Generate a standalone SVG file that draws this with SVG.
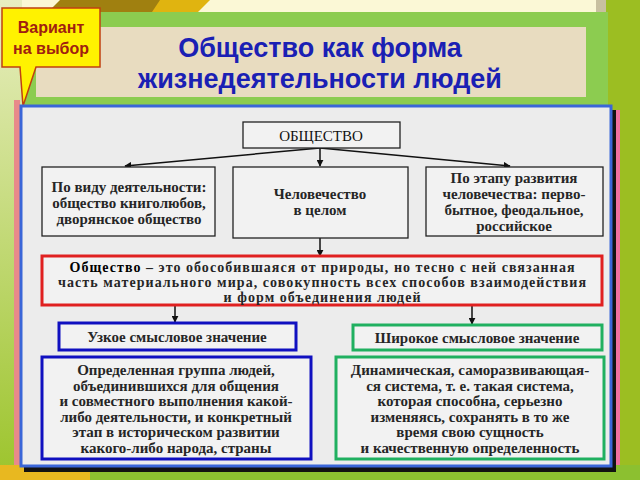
<svg xmlns="http://www.w3.org/2000/svg" width="640" height="480" viewBox="0 0 640 480">
<defs>
<style>
.t{font-family:"Liberation Serif","Times New Roman",serif;font-size:15px;font-weight:bold;fill:#262626;text-anchor:middle}
.r{font-size:14px}
.n{font-weight:normal;fill:#111}
.bx{fill:#f2f2f2;stroke:#222;stroke-width:1.3}
.cn{stroke:#111;stroke-width:1.5;fill:none;marker-end:url(#ah)}
.ttl{font-family:"Liberation Sans",Arial,sans-serif;font-size:27px;font-weight:bold;fill:#1a20b4;text-anchor:middle}
.cl{font-family:"Liberation Sans",Arial,sans-serif;font-size:16px;font-weight:bold;fill:#a02010;text-anchor:middle}
</style>
<marker id="ah" viewBox="0 0 10 10" refX="9" refY="5" markerWidth="7" markerHeight="7" orient="auto" markerUnits="userSpaceOnUse"><path d="M0,0 L10,5 L0,10 z" fill="#111"/></marker>
<linearGradient id="lg" x1="0" y1="0" x2="0" y2="1"><stop offset="0" stop-color="#e8eec0"/><stop offset="1" stop-color="#9cc42c"/></linearGradient>
</defs>
<!-- background -->
<rect width="640" height="480" fill="#fbf8d6"/>
<polygon points="60,0 200,0 180,20 40,20" fill="#a08010"/>
<polygon points="160,0 210,0 195,15 150,15" fill="#e0b410"/>
<rect x="0" y="0" width="22" height="480" fill="url(#lg)"/>
<rect x="14" y="100" width="6" height="380" fill="#e88a8a"/>
<rect x="606" y="0" width="34" height="480" fill="#9cbe22"/>
<rect x="596" y="0" width="10" height="14" fill="#c8c0a0"/>
<rect x="612" y="110" width="8" height="370" fill="#f070a0"/>
<rect x="0" y="465" width="640" height="15" fill="#8cc030"/>
<rect x="0" y="465" width="90" height="15" fill="#e8b820"/>
<!-- title panel -->
<rect x="24" y="12" width="584" height="96" fill="#8ccc50"/>
<rect x="36" y="27" width="550" height="70" fill="#e8dcc0"/>
<text class="ttl" x="320" y="57">Общество как форма</text>
<text class="ttl" x="320" y="88">жизнедеятельности людей</text>
<!-- callout -->
<g id="callout">
<path d="M2,8 H100 V67 H36 L23,106 L20,67 H2 Z" fill="#fff200" stroke="#c04010" stroke-width="1.5"/>
<text class="cl" x="51" y="33">Вариант</text>
<text class="cl" x="51" y="54">на выбор</text>
</g>
<!-- main frame -->
<rect x="24" y="110" width="592" height="362" fill="#111"/>
<rect x="21" y="106" width="590" height="360" fill="#ececec" stroke="#3a66d8" stroke-width="3"/>
<!-- connectors -->
<g id="connectors">
<path class="cn" d="M320,148 L125,166"/>
<path class="cn" d="M320,148 L320,166"/>
<path class="cn" d="M320,148 L510,166"/>
<path class="cn" d="M320,238 L320,256"/>
<path class="cn" d="M175,305 L175,322"/>
<path class="cn" d="M472,305 L472,324"/>
</g>
<g id="n-society"><rect class="bx" x="243" y="122" width="157" height="26"/><text class="t n" x="321" y="141">ОБЩЕСТВО</text></g>
<g id="n-activity"><rect class="bx" x="42" y="167" width="173" height="69"/>
<text class="t" x="129" y="192">По виду деятельности:</text>
<text class="t" x="129" y="208">общество книголюбов,</text>
<text class="t" x="129" y="224">дворянское общество</text></g>
<g id="n-humanity"><rect class="bx" x="233" y="167" width="175" height="71"/>
<text class="t" x="320" y="199">Человечество</text>
<text class="t" x="320" y="215">в целом</text></g>
<g id="n-stage"><rect class="bx" x="426" y="167" width="177" height="69"/>
<text class="t" x="514" y="183">По этапу развития</text>
<text class="t" x="514" y="199">человечества: перво-</text>
<text class="t" x="514" y="215">бытное, феодальное,</text>
<text class="t" x="514" y="231">российское</text></g>
<g id="n-def"><rect x="42" y="256" width="560" height="49" fill="#f2f2f2" stroke="#e02020" stroke-width="3"/>
<text class="t r" x="322" y="272" textLength="505" lengthAdjust="spacing"><tspan fill="#000">Общество</tspan> – это обособившаяся от природы, но тесно с ней связанная</text>
<text class="t r" x="322" y="287" textLength="528" lengthAdjust="spacing">часть материального мира, совокупность всех способов взаимодействия</text>
<text class="t r" x="322" y="302" textLength="197" lengthAdjust="spacing">и форм объединения людей</text></g>
<g id="n-narrow"><rect x="59" y="323" width="237" height="27" fill="#f2f2f2" stroke="#1010c0" stroke-width="3"/>
<text class="t" x="177" y="342">Узкое смысловое значение</text></g>
<g id="n-broad"><rect x="353" y="325" width="249" height="25" fill="#f2f2f2" stroke="#20b060" stroke-width="3"/>
<text class="t" x="477" y="343">Широкое смысловое значение</text></g>
<g id="n-narrow-text"><rect x="42" y="357" width="269" height="102" fill="#f2f2f2" stroke="#1010c0" stroke-width="3"/>
<text class="t" x="176" y="375">Определенная группа людей,</text>
<text class="t" x="176" y="391">объединившихся для общения</text>
<text class="t" x="176" y="406">и совместного выполнения какой-</text>
<text class="t" x="176" y="422">либо деятельности, и конкретный</text>
<text class="t" x="176" y="437">этап в историческом развитии</text>
<text class="t" x="176" y="453">какого-либо народа, страны</text></g>
<g id="n-broad-text"><rect x="336" y="357" width="268" height="102" fill="#f2f2f2" stroke="#20b060" stroke-width="3"/>
<text class="t" x="470" y="375">Динамическая, саморазвивающая-</text>
<text class="t" x="470" y="391">ся система, т. е. такая система,</text>
<text class="t" x="470" y="406">которая способна, серьезно</text>
<text class="t" x="470" y="422">изменяясь, сохранять в то же</text>
<text class="t" x="470" y="437">время свою сущность</text>
<text class="t" x="470" y="453">и качественную определенность</text></g>
</svg>
